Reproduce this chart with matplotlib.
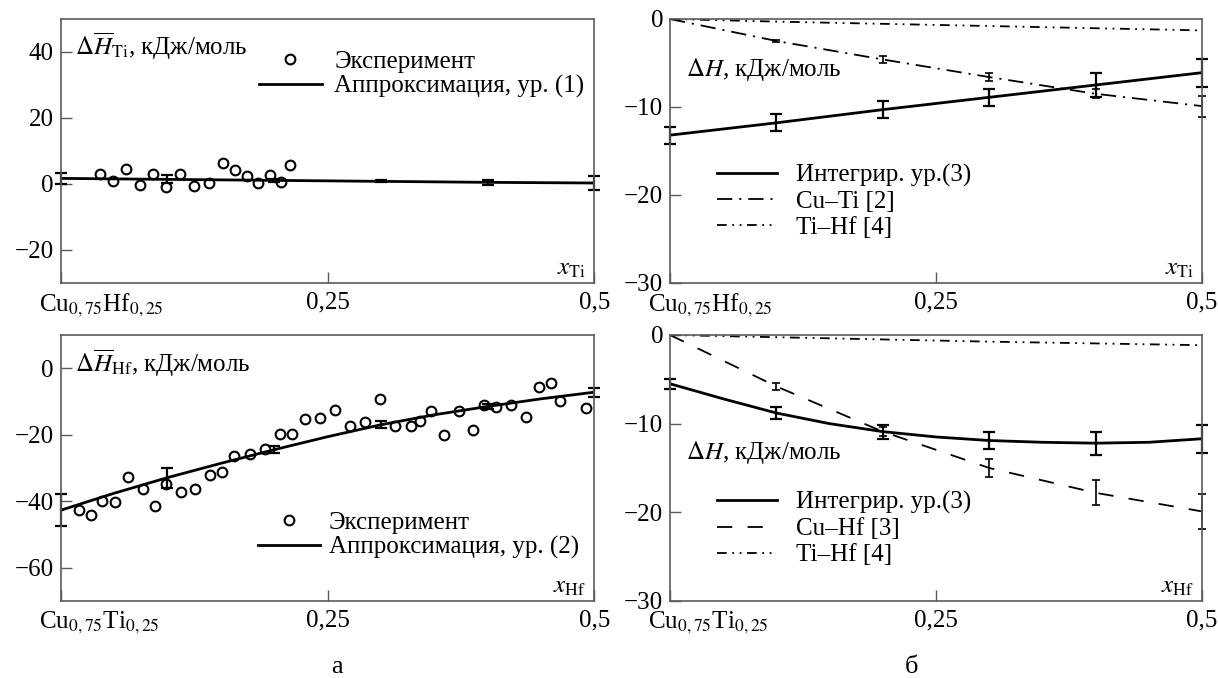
import matplotlib
matplotlib.use("Agg")
import matplotlib.pyplot as plt
import matplotlib.transforms as mtransforms

plt.rcParams['font.family'] = ['Liberation Serif', 'DejaVu Serif']
plt.rcParams['mathtext.fontset'] = 'stix'
plt.rcParams['font.size'] = 18
plt.rcParams['lines.scale_dashes'] = False

# common x grid of the fitted / integrated curves
fit_x = [0.0, 0.1, 0.2, 0.3, 0.4, 0.5]
fine_x = [0.0, 0.05, 0.1, 0.15, 0.2, 0.25, 0.3, 0.35, 0.4, 0.45, 0.5]

# a, top: partial enthalpy of Ti
ti_exp_x = [0.037, 0.049, 0.061, 0.074, 0.086, 0.099, 0.112, 0.125, 0.139,
            0.152, 0.163, 0.175, 0.185, 0.196, 0.206, 0.215]
ti_exp_y = [3.1, 0.9, 4.4, -0.3, 2.9, -0.9, 2.9, -0.5, 0.3,
            6.4, 4.3, 2.5, 0.3, 2.6, 0.5, 5.9]
ti_fit_y = [1.7, 1.4, 1.1, 0.8, 0.5, 0.3]
ti_fit_err = [1.7, 1.2, 0.4, 0.3, 0.7, 2.1]

# a, bottom: partial enthalpy of Hf
hf_exp_x = [0.017, 0.028, 0.039, 0.051, 0.063, 0.077, 0.088, 0.099, 0.113,
            0.126, 0.140, 0.151, 0.162, 0.177, 0.191, 0.205, 0.217, 0.229,
            0.243, 0.257, 0.271, 0.285, 0.299, 0.313, 0.328, 0.337, 0.347,
            0.359, 0.373, 0.386, 0.397, 0.408, 0.422, 0.436, 0.448, 0.459,
            0.468, 0.492]
hf_exp_y = [-42.7, -44.2, -40.0, -40.2, -32.8, -36.4, -41.5, -34.8, -37.2,
            -36.2, -32.2, -31.3, -26.4, -25.9, -24.3, -19.8, -19.8, -15.4,
            -15.1, -12.6, -17.5, -16.3, -9.1, -17.3, -17.3, -16.0, -12.8,
            -20.2, -13.0, -18.5, -11.0, -11.6, -11.0, -14.7, -5.7, -4.4,
            -9.9, -12.0]
hf_fit_y = [-42.7, -37.6, -32.9, -28.6, -24.5, -20.6, -17.0, -14.0, -11.5, -9.2, -7.2]
hf_fit_err = [4.8, 3.0, 1.0, 1.0, 0.8, 1.3]

# б, top: integral enthalpy along x_Ti
int_ti_y = [-13.2, -11.8, -10.3, -8.9, -7.5, -6.1]
int_ti_err = [0.95, 0.95, 1.0, 1.0, 1.4, 1.6]
cuti_y = [0.0, -2.5, -4.6, -6.6, -8.5, -9.9]
cuti_err = [0.0, 0.15, 0.35, 0.45, 0.5, 1.2]
tihf_a_y = [0.0, -0.3, -0.55, -0.8, -1.05, -1.3]

# б, bottom: integral enthalpy along x_Hf
int_hf_y = [-5.5, -7.2, -8.8, -10.0, -10.9, -11.5, -11.9, -12.1, -12.2, -12.1, -11.7]
int_hf_err = [0.55, 0.7, 0.8, 0.95, 1.3, 1.6]
cuhf_y = [0.0, -5.8, -10.9, -15.0, -17.8, -19.9]
cuhf_err = [0.0, 0.4, 0.5, 1.05, 1.4, 2.0]
tihf_b_y = [0.0, -0.25, -0.5, -0.75, -0.95, -1.15]

xticks = [0.0, 0.25, 0.5]
xlab_ti = [r'Cu$_{\mathrm{0,75}}$Hf$_{\mathrm{0,25}}$', '0,25', '0,5']
xlab_hf = [r'Cu$_{\mathrm{0,75}}$Ti$_{\mathrm{0,25}}$', '0,25', '0,5']

spine_col = '#5a5a5a'
dashdot = (0, (11, 5, 1.5, 5))
dashdotdot = (0, (7, 4, 1.3, 4, 1.3, 4))
dashed = (0, (11, 11))

fig = plt.figure(figsize=(12.18, 6.78), dpi=100)
ax_tl = fig.add_axes([0.0499, 0.5826, 0.4380, 0.3894])
ax_bl = fig.add_axes([0.0499, 0.1136, 0.4380, 0.3923])
ax_tr = fig.add_axes([0.5501, 0.5826, 0.4368, 0.3894])
ax_br = fig.add_axes([0.5501, 0.1136, 0.4368, 0.3923])


def style(ax, ylim, yticks, xlabels, xname):
    ax.set_xlim(0, 0.5)
    ax.set_ylim(*ylim)
    ax.set_yticks(yticks)
    ax.set_yticklabels([str(v).replace('-', '\u2212') for v in yticks])
    ax.set_xticks(xticks)
    ax.set_xticklabels(xlabels)
    ax.tick_params(direction='in', length=8, width=1.0, color=spine_col,
                   top=False, right=False, pad=5)
    ax.tick_params(axis='x', pad=6)
    for s in ax.spines.values():
        s.set_color(spine_col)
        s.set_linewidth(1.2)
    lbls = ax.get_xticklabels()
    lbls[0].set_horizontalalignment('left')
    lbls[0].set_transform(lbls[0].get_transform() +
                          mtransforms.ScaledTranslation(-22 / 100, 0, fig.dpi_scale_trans))
    ax.text(0.985, 0.012, xname, transform=ax.transAxes, ha='right', va='bottom')


def bars(ax, x, y, err, lw=1.6, cap=4):
    cont = ax.errorbar(x, y, yerr=err, fmt='none', ecolor='k', elinewidth=lw,
                       capsize=cap, capthick=lw)
    for art in cont.get_children():
        art.set_clip_on(False)


# ---- a, top
style(ax_tl, (-30, 50), [-20, 0, 20, 40], xlab_ti, r'$x_{\mathrm{Ti}}$')
ax_tl.plot(ti_exp_x, ti_exp_y, 'o', mfc='white', mec='k', ms=7, mew=1.5,
           label='Эксперимент')
ax_tl.plot(fit_x, ti_fit_y, '-', color='k', lw=2, label='Аппроксимация, ур. (1)')
bars(ax_tl, fit_x, ti_fit_y, ti_fit_err)
ax_tl.text(0.026, 0.895, r'$\Delta\overline{H}_{\mathrm{Ti}}$, кДж/моль',
           transform=ax_tl.transAxes, ha='left', va='center')
ax_tl.legend(frameon=False, loc='upper right', bbox_to_anchor=(1.0, 0.92),
             handlelength=2.5, handletextpad=0.5, labelspacing=0.08,
             borderaxespad=0)

# ---- a, bottom
style(ax_bl, (-70, 10), [-60, -40, -20, 0], xlab_hf, r'$x_{\mathrm{Hf}}$')
ax_bl.plot(hf_exp_x, hf_exp_y, 'o', mfc='white', mec='k', ms=7, mew=1.5,
           label='Эксперимент')
ax_bl.plot(fine_x, hf_fit_y, '-', color='k', lw=2, label='Аппроксимация, ур. (2)')
bars(ax_bl, fit_x, hf_fit_y[::2], hf_fit_err)
ax_bl.text(0.026, 0.895, r'$\Delta\overline{H}_{\mathrm{Hf}}$, кДж/моль',
           transform=ax_bl.transAxes, ha='left', va='center')
ax_bl.legend(frameon=False, loc='lower right', bbox_to_anchor=(0.99, 0.12),
             handlelength=2.5, handletextpad=0.35, labelspacing=0.08,
             borderaxespad=0)

# ---- б, top
style(ax_tr, (-30, 0), [-30, -20, -10, 0], xlab_ti, r'$x_{\mathrm{Ti}}$')
ax_tr.plot(fit_x, int_ti_y, '-', color='k', lw=2, label='Интегрир. ур.(3)')
ax_tr.plot(fit_x, cuti_y, color='k', lw=1.3, ls=dashdot, label='Cu–Ti [2]')
ax_tr.plot(fit_x, tihf_a_y, color='k', lw=1.3, ls=dashdotdot, label='Ti–Hf [4]')
bars(ax_tr, fit_x, int_ti_y, int_ti_err)
bars(ax_tr, fit_x[1:], cuti_y[1:], cuti_err[1:], lw=1.2, cap=3)
ax_tr.text(0.03, 0.81, r'$\Delta H$, кДж/моль', transform=ax_tr.transAxes,
           ha='left', va='center')
ax_tr.legend(frameon=False, loc='upper left', bbox_to_anchor=(0.07, 0.49),
             handlelength=2.4, handletextpad=0.75, labelspacing=0.14,
             borderaxespad=0)

# ---- б, bottom
style(ax_br, (-30, 0), [-30, -20, -10, 0], xlab_hf, r'$x_{\mathrm{Hf}}$')
ax_br.plot(fine_x, int_hf_y, '-', color='k', lw=2, label='Интегрир. ур.(3)')
ax_br.plot(fit_x, cuhf_y, color='k', lw=1.3, ls=dashed, label='Cu–Hf [3]')
ax_br.plot(fit_x, tihf_b_y, color='k', lw=1.3, ls=dashdotdot, label='Ti–Hf [4]')
bars(ax_br, fit_x, int_hf_y[::2], int_hf_err)
bars(ax_br, fit_x[1:], cuhf_y[1:], cuhf_err[1:], lw=1.2, cap=3)
ax_br.text(0.03, 0.56, r'$\Delta H$, кДж/моль', transform=ax_br.transAxes,
           ha='left', va='center')
ax_br.legend(frameon=False, loc='upper left', bbox_to_anchor=(0.07, 0.45),
             handlelength=2.4, handletextpad=0.75, labelspacing=0.14,
             borderaxespad=0)

fig.text(337 / 1218, 1 - 667 / 678, 'а', ha='center', va='center', fontsize=19)
fig.text(912 / 1218, 1 - 667 / 678, 'б', ha='center', va='center', fontsize=19)

fig.savefig('out.png', dpi=100)
